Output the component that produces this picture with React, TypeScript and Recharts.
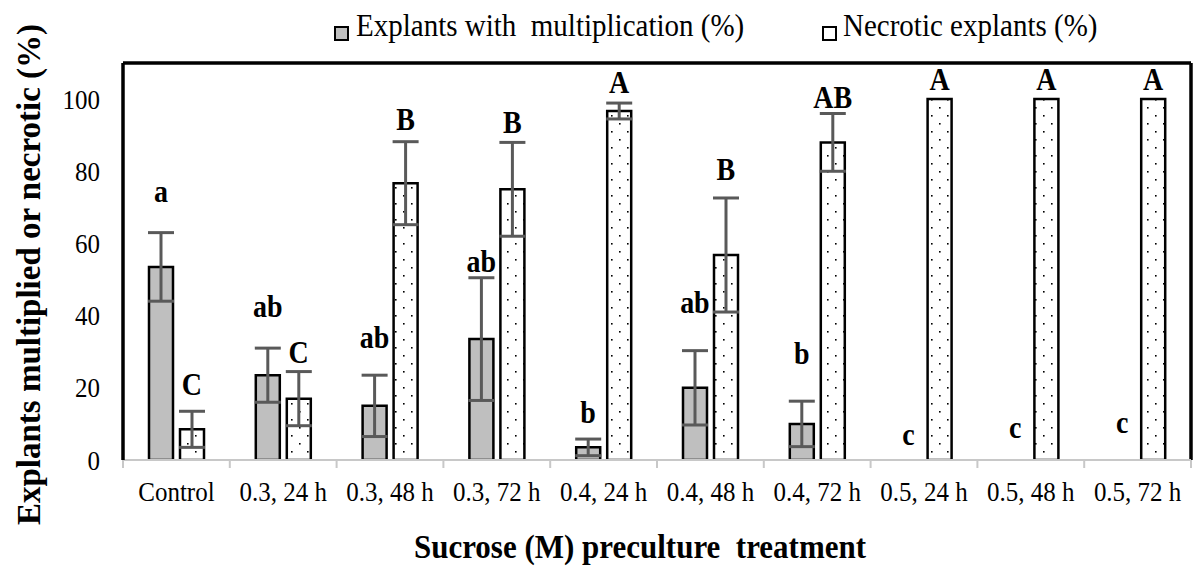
import React from 'react';
import {
  BarChart,
  Bar,
  XAxis,
  YAxis,
  ErrorBar,
  Legend,
  ReferenceLine,
  ReferenceDot,
} from 'recharts';

// ---------- data ----------
const categories = [
  'Control',
  '0.3, 24 h',
  '0.3, 48 h',
  '0.3, 72 h',
  '0.4, 24 h',
  '0.4, 48 h',
  '0.4, 72 h',
  '0.5, 24 h',
  '0.5, 48 h',
  '0.5, 72 h',
];
const multiplication = [53.5, 23.5, 15, 33.5, 3.5, 20, 10, 0, 0, 0];
const multiplicationErr = [9.5, 7.5, 8.5, 17, 2.3, 10.3, 6.3, null, null, null];
const necrotic = [8.5, 17, 76.7, 75, 96.7, 56.8, 88, 100, 100, 100];
const necroticErr = [5, 7.5, 11.5, 13, 2.2, 15.8, 8, 0, 0, 0];

const multLetters = ['a', 'ab', 'ab', 'ab', 'b', 'ab', 'b', 'c', 'c', 'c'];
const multLetterAt = [74.2, 42.4, 33.8, 54.8, 13, 43.5, 29.4, 6.9, 8.9, 10.2];
const necLetters = ['C', 'C', 'B', 'B', 'A', 'B', 'AB', 'A', 'A', 'A'];
const necLetterAt = [20.8, 29.6, 94.2, 93.4, 104.4, 80.3, 100.3, 105.3, 105.3, 105.3];

const yTicks = [0, 20, 40, 60, 80, 100];
const yMax = 110;

const SERIES_MULT = 'Explants with  multiplication (%)';
const SERIES_NEC = 'Necrotic explants (%)';

const data = categories.map((c, i) => ({
  cat: c,
  mult: multiplication[i],
  multErr: multiplicationErr[i],
  nec: necrotic[i],
  necErr: necroticErr[i],
}));

// ---------- layout ----------
const W = 1196;
const H = 566;
const MARGIN = { top: 63, right: 5, bottom: 0, left: 0 };
const Y_AXIS_W = 123;
const X_AXIS_H = 106;
const BAR_SIZE = 24;
const BAR_GAP = 7;
const SERIF = "'Liberation Serif', 'Times New Roman', serif";
const GREY = '#bfbfbf';
const ERR = '#595959';
const halfBand = (W - MARGIN.left - MARGIN.right - Y_AXIS_W) / categories.length / 2;
const barOffset = (BAR_SIZE + BAR_GAP) / 2;

const TallText = ({ x, y, sy, children, ...rest }: any) => (
  <text transform={`translate(${x},${y}) scale(1,${sy})`} x={0} y={0} fill="#000" fontFamily={SERIF} {...rest}>
    {children}
  </text>
);

const XTick = (props: any) => {
  const { x, y, payload, index } = props;
  return (
    <g>
      <line x1={x - halfBand} x2={x - halfBand} y1={y} y2={y + 8} stroke="#c8c8c8" strokeWidth={2} />
      {index === categories.length - 1 && (
        <line x1={x + halfBand} x2={x + halfBand} y1={y} y2={y + 8} stroke="#c8c8c8" strokeWidth={2} />
      )}
      <TallText x={x} y={y + 41} sy={1.12} textAnchor="middle" fontSize={25}>
        {payload.value}
      </TallText>
    </g>
  );
};

const YTick = (props: any) => {
  const { x, y, payload } = props;
  return (
    <TallText x={x} y={y + 9.5} sy={1.1} textAnchor="end" fontSize={25}>
      {payload.value}
    </TallText>
  );
};

const YTitle = (props: any) => {
  const vb = props.viewBox;
  const cx = vb.x + 28;
  const cy = vb.y + vb.height / 2 + 13;
  return (
    <text
      x={cx}
      y={cy}
      transform={`rotate(-90, ${cx}, ${cy})`}
      textAnchor="middle"
      dy="0.35em"
      fontSize={33}
      fontWeight="bold"
      fontFamily={SERIF}
      fill="#000"
    >
      Explants multiplied or necrotic (%)
    </text>
  );
};

const XTitle = (props: any) => {
  const vb = props.viewBox;
  const cx = vb.x + vb.width / 2 - 17;
  return (
    <TallText
      x={cx}
      y={vb.y + 98}
      sy={1.1}
      textAnchor="middle"
      fontSize={31}
      fontWeight="bold"
      style={{ whiteSpace: 'pre' }}
    >
      {'Sucrose (M) preculture  treatment'}
    </TallText>
  );
};

const legendPos = [
  { square: 334, text: 356 },
  { square: 822, text: 843 },
];

const renderLegend = (props: any) => {
  const payload = props.payload || [];
  return (
    <div style={{ position: 'relative', width: W, height: 46, fontFamily: SERIF, fontSize: 29, color: '#000' }}>
      {payload.map((p: any, i: number) => (
        <React.Fragment key={i}>
          <span
            style={{
              position: 'absolute',
              left: legendPos[i].square,
              top: 26,
              width: 11,
              height: 11,
              background: i === 0 ? GREY : '#fff',
              border: '2.5px solid #000',
            }}
          />
          <span
            style={{
              position: 'absolute',
              left: legendPos[i].text,
              top: 9,
              lineHeight: '34px',
              whiteSpace: 'pre',
              transform: 'scaleY(1.08)',
              transformOrigin: '0 80%',
            }}
          >
            {p.value}
          </span>
        </React.Fragment>
      ))}
    </div>
  );
};

const letter = (text: string, dx: number) => (p: any) => (
  <TallText x={p.cx + dx} y={p.cy + 10} sy={1.1} textAnchor="middle" fontSize={28} fontWeight="bold">
    {text}
  </TallText>
);

export default function App() {
  return (
    <div style={{ position: 'absolute', left: 0, top: 0, width: W, height: H, background: '#fff' }}>
      <BarChart width={W} height={H} data={data} margin={MARGIN} barSize={BAR_SIZE} barGap={BAR_GAP}>
        <defs>
          <pattern id="dots" width={16} height={16} patternUnits="userSpaceOnUse">
            <rect width={16} height={16} fill="#fff" />
            <rect x={3} y={3} width={1.6} height={1.6} fill="#000" />
            <rect x={11} y={11} width={1.6} height={1.6} fill="#000" />
          </pattern>
        </defs>
        <XAxis
          dataKey="cat"
          height={X_AXIS_H}
          axisLine={{ stroke: '#c8c8c8', strokeWidth: 2 }}
          tickLine={false}
          tickSize={0}
          tickMargin={0}
          tick={<XTick />}
          interval={0}
          label={<XTitle />}
        />
        <YAxis
          width={Y_AXIS_W}
          domain={[0, yMax]}
          ticks={yTicks}
          axisLine={{ stroke: '#000', strokeWidth: 3.5 }}
          tickLine={false}
          tickSize={23}
          tickMargin={0}
          tick={<YTick />}
          allowDataOverflow
          label={<YTitle />}
        />
        <ReferenceLine y={yMax} stroke="#000" strokeWidth={3.5} ifOverflow="visible" />
        <ReferenceLine
          x={categories[categories.length - 1]}
          position="end"
          stroke="#000"
          strokeWidth={3.5}
          ifOverflow="visible"
        />
        <Legend
          verticalAlign="middle"
          align="center"
          layout="horizontal"
          width={W}
          wrapperStyle={{ top: 0, left: 0 }}
          content={renderLegend}
        />
        <Bar dataKey="mult" name={SERIES_MULT} fill={GREY} stroke="#000" strokeWidth={2.5} isAnimationActive={false}>
          <ErrorBar dataKey="multErr" width={13} stroke={ERR} strokeWidth={3} direction="y" />
        </Bar>
        <Bar dataKey="nec" name={SERIES_NEC} fill="url(#dots)" stroke="#000" strokeWidth={2.5} isAnimationActive={false}>
          <ErrorBar dataKey="necErr" width={13} stroke={ERR} strokeWidth={3} direction="y" />
        </Bar>
        {categories.map((c, i) => (
          <ReferenceDot
            key={'m' + i}
            x={c}
            y={multLetterAt[i]}
            r={0}
            ifOverflow="visible"
            shape={letter(multLetters[i], -barOffset)}
          />
        ))}
        {categories.map((c, i) => (
          <ReferenceDot
            key={'n' + i}
            x={c}
            y={necLetterAt[i]}
            r={0}
            ifOverflow="visible"
            shape={letter(necLetters[i], barOffset)}
          />
        ))}
      </BarChart>
    </div>
  );
}
